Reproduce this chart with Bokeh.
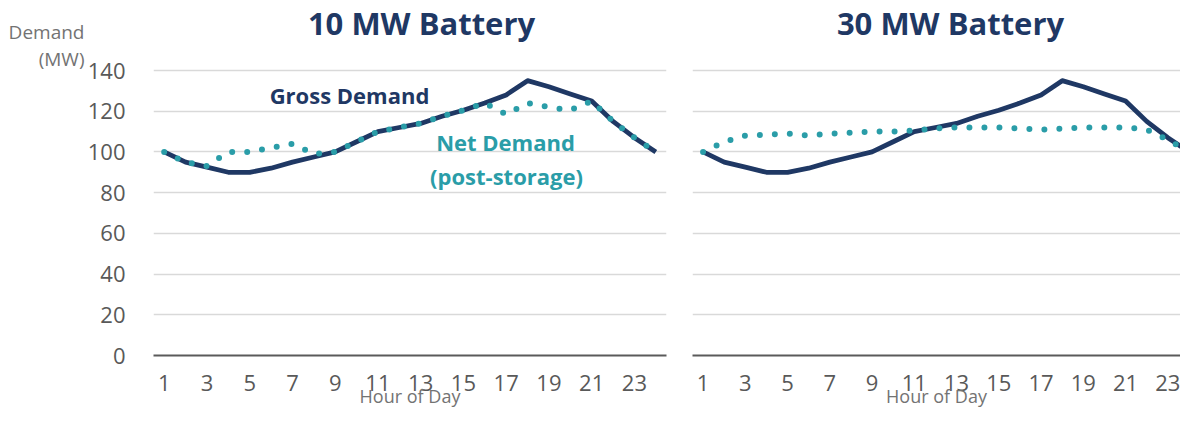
from bokeh.plotting import figure
from bokeh.layouts import row
from bokeh.models import Label, FixedTicker, Range1d, LinearAxis
from bokeh.embed import file_html
from bokeh.resources import INLINE

hours = list(range(1, 25))
gross = [100, 95, 92.5, 90, 90, 92, 95, 97.5, 100, 105, 110, 112, 114, 117.5,
         120.5, 124, 128, 135, 132, 128.5, 125, 115, 107, 100]
net_10mw = [100, 95, 93, 100, 100, 102, 104, 99, 100, 105, 110, 112, 114, 117.5,
            120.5, 124, 118.5, 124, 122, 120.5, 125, 115, 107, 100]
net_30mw = [100, 105, 108, 108.5, 109, 108, 109, 109.5, 110, 110, 110.5, 111.5,
            112, 112, 112, 111.5, 111, 111.5, 112, 112, 112, 111, 106, 100]
x_ticks = list(range(1, 24, 2))
y_ticks = [0, 20, 40, 60, 80, 100, 120, 140]
unit_labels = {159: "Demand", 145.5: "(MW)"}

NAVY = "#1F3864"
TEAL = "#2A9DA8"
GRAY = "#595959"
LGRAY = "#737373"
FONT = "Open Sans"

H = 410
BOTTOM = 55
FH = H - BOTTOM     # frame height (frame top at canvas top)
YMAX = 140
Y_END = YMAX * FH / 285.0


def ypx(py):
    return (FH - py) * YMAX / 285.0


def make_fig(width, x_end, border_left, border_right):
    p = figure(width=width, height=H,
               x_range=Range1d(0.5, x_end), y_range=Range1d(0, Y_END),
               output_backend="svg", toolbar_location=None,
               min_border_left=border_left, min_border_right=border_right,
               min_border_top=0, min_border_bottom=BOTTOM)
    p.outline_line_color = None
    p.background_fill_color = "white"
    p.xgrid.visible = False
    p.ygrid.ticker = FixedTicker(ticks=y_ticks)
    p.ygrid.grid_line_color = "#D9D9D9"
    p.ygrid.grid_line_width = 1.5
    p.xaxis.ticker = FixedTicker(ticks=x_ticks)
    p.xaxis.major_tick_line_color = None
    p.xaxis.minor_tick_line_color = None
    p.xaxis.major_tick_out = 0
    p.xaxis.axis_line_color = "#5A5A5A"
    p.xaxis.axis_line_width = 2
    p.xaxis.major_label_text_font = FONT
    p.xaxis.major_label_text_font_size = "22px"
    p.xaxis.major_label_text_color = GRAY
    p.xaxis.major_label_standoff = 19
    p.xaxis.axis_label = "Hour of Day"
    p.xaxis.axis_label_text_font = FONT
    p.xaxis.axis_label_text_font_style = "normal"
    p.xaxis.axis_label_text_font_size = "18px"
    p.xaxis.axis_label_text_color = LGRAY
    p.xaxis.axis_label_standoff = -10
    p.yaxis.ticker = FixedTicker(ticks=y_ticks)
    p.yaxis.axis_line_color = None
    p.yaxis.major_tick_line_color = None
    p.yaxis.minor_tick_line_color = None
    p.yaxis.major_tick_out = 0
    p.yaxis.major_label_text_font = FONT
    p.yaxis.major_label_text_font_size = "22px"
    p.yaxis.major_label_text_color = GRAY
    p.yaxis.major_label_standoff = 28
    return p


# ---------------- left panel: 10 MW ----------------
L_LEFT, L_RIGHT = 153, 666
p1 = make_fig(668, 24.5, L_LEFT, 668 - L_RIGHT)

unit_axis = LinearAxis(ticker=FixedTicker(ticks=list(unit_labels.keys())),
                       major_label_overrides=unit_labels)
unit_axis.axis_line_color = None
unit_axis.major_tick_line_color = None
unit_axis.minor_tick_line_color = None
unit_axis.major_tick_out = 0
unit_axis.major_label_standoff = 0
unit_axis.major_label_text_font = FONT
unit_axis.major_label_text_font_size = "19px"
unit_axis.major_label_text_color = LGRAY
p1.add_layout(unit_axis, "left")


def xl(px):
    return 0.5 + (px - L_LEFT) * 24.0 / (L_RIGHT - L_LEFT)


p1.line(hours, gross, line_color=NAVY, line_width=4.8, line_join="round")
p1.line(hours, net_10mw, line_color=TEAL, line_width=6, line_dash="0 15",
        line_cap="round", line_join="round")


def lab(p, x, y, text, size, color, bold=True):
    p.add_layout(Label(x=x, y=y, text=text, text_align="center",
                       text_baseline="middle", text_font=FONT,
                       text_font_style="bold" if bold else "normal",
                       text_font_size=size, text_color=color))


lab(p1, xl(421), ypx(22), "10 MW Battery", "31px", NAVY)
lab(p1, xl(349), ypx(94), "Gross Demand", "22px", NAVY)
lab(p1, xl(505), ypx(141), "Net Demand", "22px", TEAL)
lab(p1, xl(506), ypx(175), "(post-storage)", "22px", TEAL)

# ---------------- right panel: 30 MW ----------------
R_LEFT, R_RIGHT = 692, 1180
R_END = 23.6
p2 = make_fig(1180 - 668, R_END, R_LEFT - 668, 0)
p2.yaxis.visible = False


def xr(px):
    return 0.5 + (px - R_LEFT) * (R_END - 0.5) / (R_RIGHT - R_LEFT)


p2.line(hours, gross, line_color=NAVY, line_width=4.8, line_join="round")
p2.line(hours, net_30mw, line_color=TEAL, line_width=6, line_dash="0 15",
        line_cap="round", line_join="round")
lab(p2, xr(950), ypx(22), "30 MW Battery", "31px", NAVY)

layout = row(p1, p2)
open("out.html", "w").write(file_html(layout, INLINE))
